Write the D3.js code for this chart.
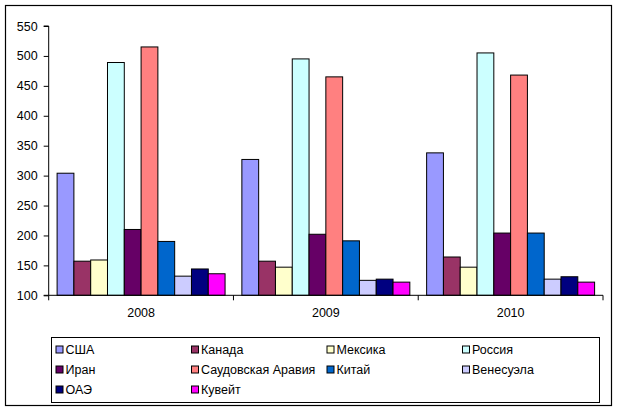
<!DOCTYPE html>
<html>
<head>
<meta charset="utf-8">
<script src="https://cdn.jsdelivr.net/npm/d3@7"></script>
<style>
  html, body { margin: 0; padding: 0; background: #fff; }
  svg text { font-family: "Liberation Sans", Arial, sans-serif; fill: #000; }
</style>
</head>
<body>
<svg id="chart" width="619" height="412"></svg>
<script>
const years = ["2008", "2009", "2010"];
const countries = ["США", "Канада", "Мексика", "Россия", "Иран", "Саудовская Аравия", "Китай", "Венесуэла", "ОАЭ", "Кувейт"];
const colors = ["#9999FF", "#993366", "#FFFFCC", "#CCFFFF", "#660066", "#FF8080", "#0066CC", "#CCCCFF", "#000080", "#FF00FF"];
const values2008 = [304, 157, 159, 489, 210, 515, 190, 132, 144, 136];
const values2009 = [327, 157, 147, 495, 202, 465, 191, 125, 127, 122];
const values2010 = [338, 164, 147, 505, 204, 468, 204, 127, 131, 122];
const yTicks = [100, 150, 200, 250, 300, 350, 400, 450, 500, 550];

const valuesByYear = [values2008, values2009, values2010];
const svg = d3.select("#chart");

// outer border
svg.append("rect").attr("x", 5.5).attr("y", 5.5).attr("width", 606).attr("height", 400)
  .attr("fill", "#fff").attr("stroke", "#000").attr("stroke-width", 1.2);

const plotLeft = 48.7, plotRight = 603, plotTop = 26, plotBottom = 295.3;

const y = d3.scaleLinear().domain([100, 550]).range([plotBottom, plotTop]);
const x0 = d3.scaleBand().domain(years).range([plotLeft, plotRight]).padding(0);
const bw = x0.bandwidth();
const barW = bw / (countries.length + 1);
const x1 = d3.scaleBand().domain(countries).range([barW / 2, bw - barW / 2]).padding(0);

// bars
const groups = svg.append("g").selectAll("g").data(years).join("g")
  .attr("transform", d => `translate(${x0(d)},0)`);
groups.selectAll("rect")
  .data((d, i) => countries.map((c, j) => ({ c, v: valuesByYear[i][j], col: colors[j] })))
  .join("rect")
  .attr("x", d => x1(d.c))
  .attr("y", d => y(d.v))
  .attr("width", x1.bandwidth())
  .attr("height", d => y(100) - y(d.v))
  .attr("fill", d => d.col)
  .attr("stroke", "#000")
  .attr("stroke-width", 1);

// y axis
const yAxis = d3.axisLeft(y).tickValues(yTicks).tickSize(5).tickPadding(6).tickFormat(d3.format("d"));
const gy = svg.append("g").attr("transform", `translate(${plotLeft},0)`).call(yAxis);
gy.select(".domain").attr("stroke", "#000").attr("d", `M-5,${plotTop}H0V${plotBottom}H-5`);
gy.selectAll(".tick line").attr("stroke", "#000");
gy.selectAll("text").style("font-size", "12.5px").attr("fill", "#000");

// x axis
const xAxis = d3.axisBottom(x0).tickSize(0).tickPadding(13);
const gx = svg.append("g").attr("transform", `translate(0,${plotBottom})`).call(xAxis);
gx.select(".domain").attr("stroke", "#000").attr("d", `M${plotLeft},0H${plotRight}`);
gx.selectAll("text").style("font-size", "12.5px").attr("fill", "#000");
// category boundary ticks
const bounds = years.map(d => x0(d)).concat([plotRight]);
gx.selectAll(".bound").data(bounds).join("line").attr("class", "bound")
  .attr("x1", d => d).attr("x2", d => d).attr("y1", 0).attr("y2", 5).attr("stroke", "#000");

// legend
svg.append("rect").attr("x", 51.5).attr("y", 337.5).attr("width", 548).attr("height", 65)
  .attr("fill", "#fff").attr("stroke", "#000").attr("stroke-width", 1);
const lg = svg.append("g");
const colX = [55.5, 191, 326.5, 462];
let prevEnd = 0, prevRow = -1;
countries.forEach((c, i) => {
  const row = Math.floor(i / 4), col = i % 4;
  let xx = colX[col];
  if (row === prevRow && xx < prevEnd + 5) xx = prevEnd + 5;
  const yy = 349.5 + row * 20;
  lg.append("rect").attr("x", xx + 0.5).attr("y", yy - 3.5).attr("width", 7).attr("height", 7)
    .attr("fill", colors[i]).attr("stroke", "#000").attr("stroke-width", 1);
  const t = lg.append("text").attr("x", xx + 10).attr("y", yy + 4.5).style("font-size", "12.5px").text(c);
  prevEnd = xx + 10 + t.node().getComputedTextLength();
  prevRow = row;
});
</script>
</body>
</html>
